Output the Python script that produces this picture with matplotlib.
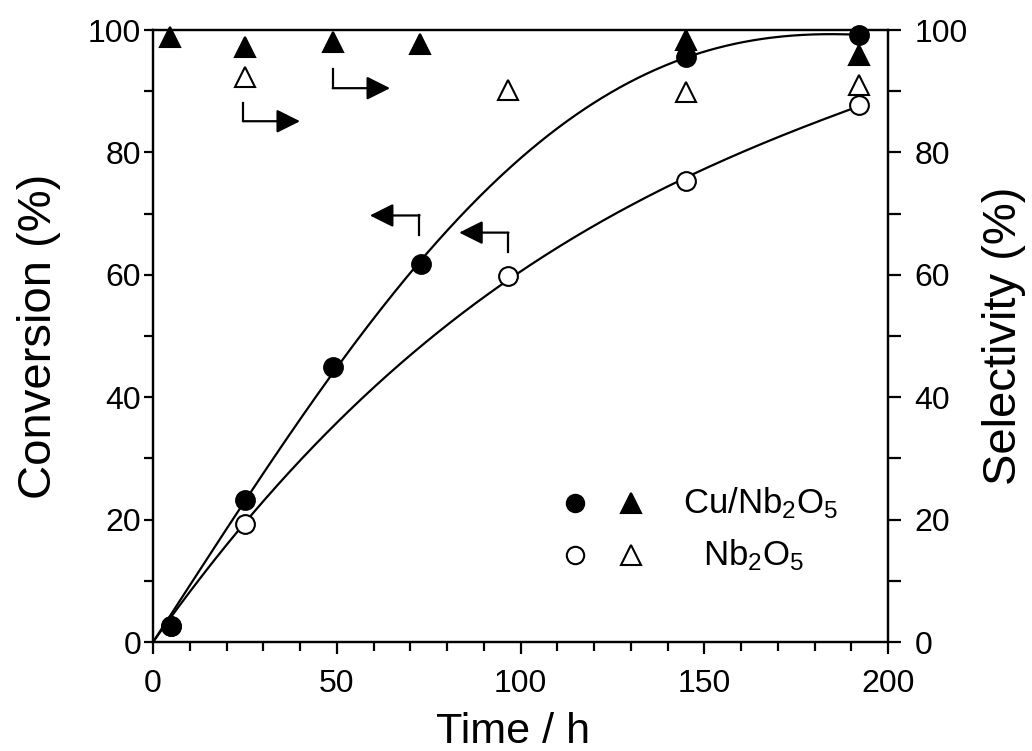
import numpy as np
import matplotlib
matplotlib.use("Agg")
import matplotlib.pyplot as plt
from matplotlib.ticker import MultipleLocator

plt.rcParams["font.family"] = ["Liberation Sans", "DejaVu Sans"]
plt.rcParams["mathtext.fontset"] = "custom"
plt.rcParams["mathtext.rm"] = "Liberation Sans"
plt.rcParams["mathtext.it"] = "Liberation Sans:italic"
plt.rcParams["mathtext.bf"] = "Liberation Sans:bold"

# Conversion (%) vs time (h), left axis
time_cu = [5, 25, 49, 73, 145, 192]
conv_cu = [2.6, 23.2, 44.9, 61.8, 95.6, 99.2]
time_nb = [5, 25, 96.5, 145, 192]
conv_nb = [2.6, 19.3, 59.8, 75.3, 87.7]

# Selectivity (%) vs time (h), right axis
sel_time_cu = [4.6, 25, 49, 72.7, 145, 192]
sel_cu = [98.9, 97.3, 98.1, 97.8, 98.3, 95.9]
sel_time_nb = [25, 96.5, 145, 192]
sel_nb = [92.4, 90.2, 89.9, 91.0]

label_cu = r"Cu/Nb$_2$O$_5$"
label_nb = r"Nb$_2$O$_5$"


def trend(t, y, deg):
    """Least-squares polynomial through the origin, drawn from 0 to the last time."""
    t = np.asarray(t, float)
    y = np.asarray(y, float)
    A = np.vstack([t ** k for k in range(1, deg + 1)]).T
    coef, *_ = np.linalg.lstsq(A, y, rcond=None)
    tt = np.linspace(0, t.max(), 400)
    return tt, np.vstack([tt ** k for k in range(1, deg + 1)]).T @ coef


fig = plt.figure(figsize=(10.32, 7.51), dpi=100)
ax = fig.add_axes([0.1483, 0.1451, 0.8605 - 0.1483, 0.96 - 0.1451])
ax2 = ax.twinx()

lw = 1.6
for a in (ax, ax2):
    for s in a.spines.values():
        s.set_linewidth(lw)

# fitted trend lines
tt, yy = trend(time_cu, conv_cu, 4)
ax.plot(tt, yy, color="k", lw=1.6, zorder=2)
tt, yy = trend(time_nb, conv_nb, 3)
ax.plot(tt, yy, color="k", lw=1.6, zorder=2)

circ = dict(marker="o", ms=13.5, mew=1.5, ls="none", mec="k", clip_on=False, zorder=4)
ax.plot(time_nb, conv_nb, mfc="white", **circ)
ax.plot(time_cu, conv_cu, mfc="k", **circ)

tri = dict(marker="^", ms=15, mew=1.5, ls="none", mec="k", clip_on=False, zorder=4)
ax2.plot(sel_time_nb, sel_nb, mfc="white", **tri)
ax2.plot(sel_time_cu, sel_cu, mfc="k", **tri)

# axes ranges and ticks
ax.set_xlim(0, 200)
ax.set_ylim(0, 100)
ax2.set_ylim(0, 100)
ax.set_xticks(np.arange(0, 201, 50))
ax.xaxis.set_minor_locator(MultipleLocator(10))
ax.set_yticks(np.arange(0, 101, 20))
ax.yaxis.set_minor_locator(MultipleLocator(10))
ax2.set_yticks(np.arange(0, 101, 20))
ax2.yaxis.set_minor_locator(MultipleLocator(10))

ax.tick_params(axis="x", which="major", direction="out", length=8.5, width=lw,
               labelsize=23, pad=11, top=False)
ax.tick_params(axis="x", which="minor", direction="out", length=6.5, width=lw, top=False)
ax.tick_params(axis="y", which="both", direction="out", length=6.5, width=lw,
               labelsize=23, pad=2, right=False)
ax2.tick_params(axis="y", which="both", direction="out", length=9, width=lw,
                labelsize=23, pad=10)

ax.set_xlabel("Time / h", fontsize=31, va="baseline")
ax.xaxis.set_label_coords(0.49, -0.165)
ax.set_ylabel("Conversion (%)", fontsize=34)
ax.yaxis.set_label_coords(-0.125, 0.5)
ax2.set_ylabel("Selectivity (%)", fontsize=34)
ax2.yaxis.set_label_coords(1.128, 0.5)


def bent_arrow(a, start, corner, tip):
    a.plot([start[0], corner[0]], [start[1], corner[1]], color="k", lw=1.6, zorder=3)
    a.annotate("", xy=tip, xytext=corner,
               arrowprops=dict(arrowstyle="-|>,head_length=1.0,head_width=0.5",
                               mutation_scale=14.4, lw=1.6, color="k",
                               shrinkA=0, shrinkB=0), zorder=3)


# arrows pointing to the selectivity axis
bent_arrow(ax2, (24.5, 88.1), (24.5, 85.1), (40.0, 85.1))
bent_arrow(ax2, (48.9, 93.7), (48.9, 90.5), (64.5, 90.5))
# arrows pointing to the conversion axis
bent_arrow(ax, (72.5, 66.5), (72.5, 69.7), (59.0, 69.7))
bent_arrow(ax, (96.7, 63.8), (96.7, 66.9), (83.3, 66.9))

# key
key = dict(transform=ax.transAxes, ls="none", mec="k", mew=1.5, clip_on=False)
ax.plot([0.574], [0.227], marker="o", ms=12.5, mfc="k", **key)
ax.plot([0.650], [0.227], marker="^", ms=14, mfc="k", **key)
ax.plot([0.574], [0.142], marker="o", ms=12.5, mfc="white", **key)
ax.plot([0.650], [0.142], marker="^", ms=14, mfc="white", **key)
ax.text(0.721, 0.227, label_cu, transform=ax.transAxes, fontsize=25,
        ha="left", va="center")
ax.text(0.748, 0.142, label_nb, transform=ax.transAxes, fontsize=25,
        ha="left", va="center")

fig.savefig("out.png", dpi=100)
